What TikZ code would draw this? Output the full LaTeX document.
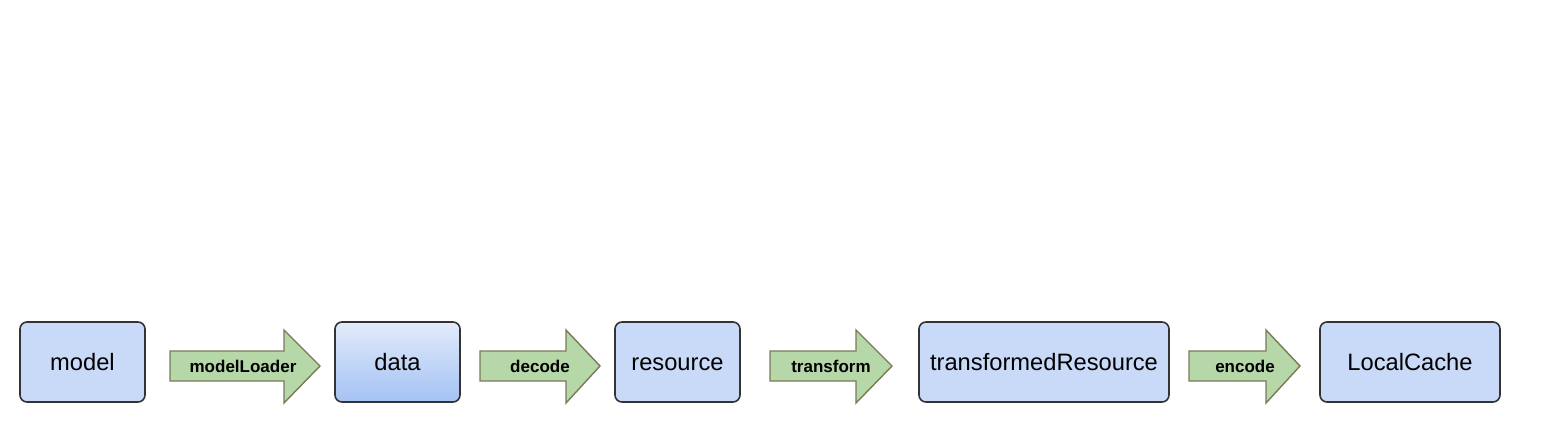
\documentclass[tikz,border=0pt]{standalone}
\usepackage{fontspec}
\setmainfont{Liberation Sans}
\definecolor{boxfill}{HTML}{C9DAF8}
\definecolor{boxtop}{HTML}{E2EBFA}
\definecolor{boxbot}{HTML}{A4C2F4}
\definecolor{boxline}{HTML}{333333}
\definecolor{arrfill}{HTML}{B6D7A8}
\definecolor{arrline}{HTML}{7A7A5A}
\tikzset{
  box/.style={draw=boxline, line width=1.6pt, rounded corners=7pt, fill=boxfill, inner sep=0pt,
    minimum height=80pt, text height=17pt, text depth=0pt, font=\fontsize{23.7}{26}\selectfont},
  arrowbody/.style={draw=arrline, line width=1.4pt, fill=arrfill, line join=miter},
  arrlabel/.style={font=\bfseries\fontsize{17}{20}\selectfont, inner sep=0pt, text height=12.2pt, text depth=0pt},
}
\begin{document}
\begin{tikzpicture}[x=1pt,y=-1pt]
\useasboundingbox (0,0) rectangle (1543,422);
\fill[white] (0,0) rectangle (1543,422);
% boxes
\node[box, minimum width=125pt] (model) at (82.5,362) {model};
\node[box, minimum width=125pt, top color=boxtop, bottom color=boxbot] (data) at (397.5,362) {data};
\node[box, minimum width=125pt] (resource) at (677.5,362) {resource};
\node[box, minimum width=250pt] (tres) at (1044,362) {transformedResource};
\node[box, minimum width=180pt] (cache) at (1410,362) {LocalCache};
% block arrows between boxes
\draw[arrowbody] (170,351) -- (284,351) -- (284,330) -- (320,366) -- (284,403) -- (284,381) -- (170,381) -- cycle;
\node[arrlabel] (l1) at (243,366) {modelLoader};
\draw[arrowbody] (480,351) -- (566,351) -- (566,330) -- (600,366) -- (566,403) -- (566,381) -- (480,381) -- cycle;
\node[arrlabel] (l2) at (540,366) {decode};
\draw[arrowbody] (770,351) -- (856,351) -- (856,330) -- (892,366) -- (856,403) -- (856,381) -- (770,381) -- cycle;
\node[arrlabel] (l3) at (831,366) {transform};
\draw[arrowbody] (1189,351) -- (1266,351) -- (1266,330) -- (1300,366) -- (1266,403) -- (1266,381) -- (1189,381) -- cycle;
\node[arrlabel] (l4) at (1245,366) {encode};
\end{tikzpicture}
\end{document}
